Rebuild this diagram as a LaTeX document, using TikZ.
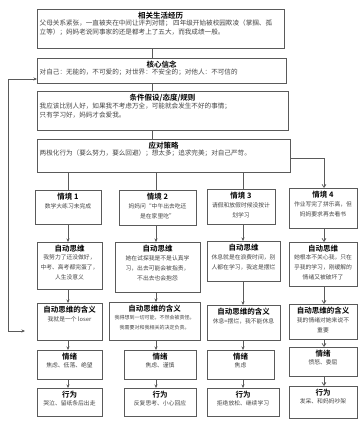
\documentclass[tikz,border=0pt]{standalone}
\usepackage{fontspec}
\setmainfont{Noto Sans CJK SC}[BoldFont={Noto Sans CJK SC Bold}]
\usetikzlibrary{arrows.meta}
\definecolor{edge}{HTML}{5A5A5A}
\definecolor{bodytxt}{HTML}{454545}
\tikzset{
  box/.style={draw=edge, line width=0.7pt, fill=white, inner sep=0pt, outer sep=0pt, rectangle},
  ttl/.style={inner sep=0pt, font=\fontsize{7.5}{9}\selectfont\bfseries, text=black},
  bdy/.style={inner sep=0pt, font=\fontsize{5.8}{10}\selectfont, text=bodytxt},
  tbdy/.style={inner sep=0pt, font=\fontsize{6.6}{11}\selectfont, text=bodytxt, align=left},
  conn/.style={draw=edge, line width=0.7pt},
  arr/.style={conn, -{Stealth[length=3.5pt,width=3pt]}},
  varr/.style={conn, -{Straight Barb[length=3pt,width=4pt]}},
  fb/.style={conn, {Stealth[length=3.5pt,width=3pt]}-{Stealth[length=3.5pt,width=3pt]}},
}
% centred box: name, x1, y1, x2, y2, title, body
\newcommand\cbox[8][bdy]{%
  \node[box, minimum width={#5-#3}, minimum height={#6-#4}, anchor=north west] (#2) at (#3,-#4) {};
  \node[ttl, anchor=north] (#2t) at ([yshift=-3.2pt]#2.north) {#7};
  \node[#1, anchor=north, align=center] (#2b) at ([yshift=-2.2pt]#2t.south) {#8};
}
% top box with left body
\newcommand\lbox[7]{%
  \node[box, minimum width={#4-#2}, minimum height={#5-#3}, anchor=north west] (#1) at (#2,-#3) {};
  \node[ttl, anchor=north] (#1t) at ([yshift=-3.2pt]#1.north) {#6};
  \node[tbdy, anchor=north west] (#1b) at ([xshift=2.5pt]#1.west |- #1t.south) {#7};
}
\begin{document}
\begin{tikzpicture}[x=1pt,y=1pt]
\useasboundingbox (0,0) rectangle (364,-423);
% spine coordinates
\coordinate (sp) at (152,0);
\coordinate (c1) at (68,0);
\coordinate (c2) at (156,0);
\coordinate (c3) at (243,0);
\coordinate (c4) at (324,0);

\lbox{top}{37}{9}{284}{48}{相关生活经历}{父母关系紧张，一直被夹在中间让评判对错；\ 四年级开始被校园欺凌（掌掴、孤\\[-2pt]立等）；妈妈老说同事家的还是都考上了五大，而我成绩一般。}
\lbox{core}{37}{58}{286}{83}{核心信念}{对自己：无能的，不可爱的；对世界：不安全的；对他人：不可信的}
\lbox{cond}{37}{91}{288}{130}{条件假设/态度/规则}{我应该比别人好，如果我不考虑万全，可能就会发生不好的事情；\\[-2pt]只有学习好，妈妈才会爱我。}
\lbox{strat}{37}{139}{290}{172}{应对策略}{两极化行为（要么努力，要么回避）；想太多；追求完美；对自己严苛。}

\cbox{s1}{35}{190}{101}{224}{情境 1}{数学大练习未完成}
\cbox{s2}{119}{190}{196}{225}{情境 2}{妈妈问“中午出去吃还\\是在家里吃”}
\cbox{s3}{207}{189}{275}{224}{情境 3}{请假和放假时候没按计\\划学习}
\cbox{s4}{289}{188}{357}{228}{情境 4}{作业写完了拼乐高，但\\妈妈要求再去看书}

\cbox{a1}{37}{242}{102}{289}{自动思维}{我努力了还没做好，\\中考、高考都完蛋了，\\人生没意义}
\cbox{a2}{115}{242}{200}{292}{自动思维}{她在试探我是不是认真学\\习，出去可能会被指责，\\不出去也会抱怨}
\cbox{a3}{207}{241}{280}{281}{自动思维}{休息就是在浪费时间，别\\人都在学习，我这是摆烂}
\cbox{a4}{289}{242}{357}{286}{自动思维}{她根本不关心我，只在\\乎我的学习，刚缓解的\\情绪又被破坏了}

\cbox{m1}{37}{303}{102}{340}{自动思维的含义}{我就是一个 loser}
\cbox[bdy,font=\fontsize{5}{10}\selectfont]{m2}{109}{302}{200}{340}{自动思维的含义}{我得想到一切可能，不然会被责怪。\\我需要对和我相关的决定负责。}
\cbox{m3}{207}{305}{280}{340}{自动思维的含义}{休息=摆烂，我不能休息}
\cbox{m4}{289}{304}{357}{339}{自动思维的含义}{我的情绪对她来说不\\重要}

\cbox{e1}{37}{350}{102}{379}{情绪}{焦虑、低落、绝望}
\cbox{e2}{124}{350}{196}{379}{情绪}{焦虑、谨慎}
\cbox{e3}{207}{350}{274}{379}{情绪}{焦虑}
\cbox{e4}{289}{347}{357}{376}{情绪}{愤怒、委屈}

\cbox{b1}{37}{388}{102}{416}{行为}{哭泣、留纸条后出走}
\cbox{b2}{124}{388}{196}{416}{行为}{反复思考、小心回应}
\cbox{b3}{207}{388}{279}{416}{行为}{拒绝放松、继续学习}
\cbox{b4}{289}{386}{357}{418}{行为}{发呆、和妈妈吵架}

% spine
\draw[conn] (top.south -| sp) -- (core.north -| sp);
\draw[conn] (core.south -| sp) -- (cond.north -| sp);
\draw[conn] (cond.south -| sp) -- (strat.north -| sp);
% strategy to situations
\draw[conn] (strat.south -| c1) -- (s1.north -| c1);
\draw[conn] (strat.south -| c2) -- (s2.north -| c2);
\draw[conn] (strat.south -| c3) -- (s3.north -| c3);
\coordinate (se) at (290,-158);
\draw[varr] (se) -| (s4.north -| c4);
% columns
\foreach \c/\a/\b/\m/\e/\h in {c1/s1/a1/m1/e1/b1, c2/s2/a2/m2/e2/b2, c3/s3/a3/m3/e3/b3}{
  \draw[arr] (\a.south -| \c) -- (\b.north -| \c);
  \draw[arr] (\b.south -| \c) -- (\m.north -| \c);
  \draw[arr] (\m.south -| \c) -- (\e.north -| \c);
  \draw[arr] (\e.south -| \c) -- (\h.north -| \c);
}
\draw[varr] (s4.south -| c4) -- (a4.north -| c4);
\draw[varr] (a4.south -| c4) -- (m4.north -| c4);
\draw[varr] (m4.south -| c4) -- (e4.north -| c4);
\draw[varr] (e4.south -| c4) -- (b4.north -| c4);
% feedback loop
\coordinate (fbA) at (25,-331);
\coordinate (fbB) at (8,-331);
\coordinate (fbC) at (8,-79);
\draw[fb] (fbA) -- (fbB) -- (fbC) -- (fbC -| core.west);
\end{tikzpicture}
\end{document}
